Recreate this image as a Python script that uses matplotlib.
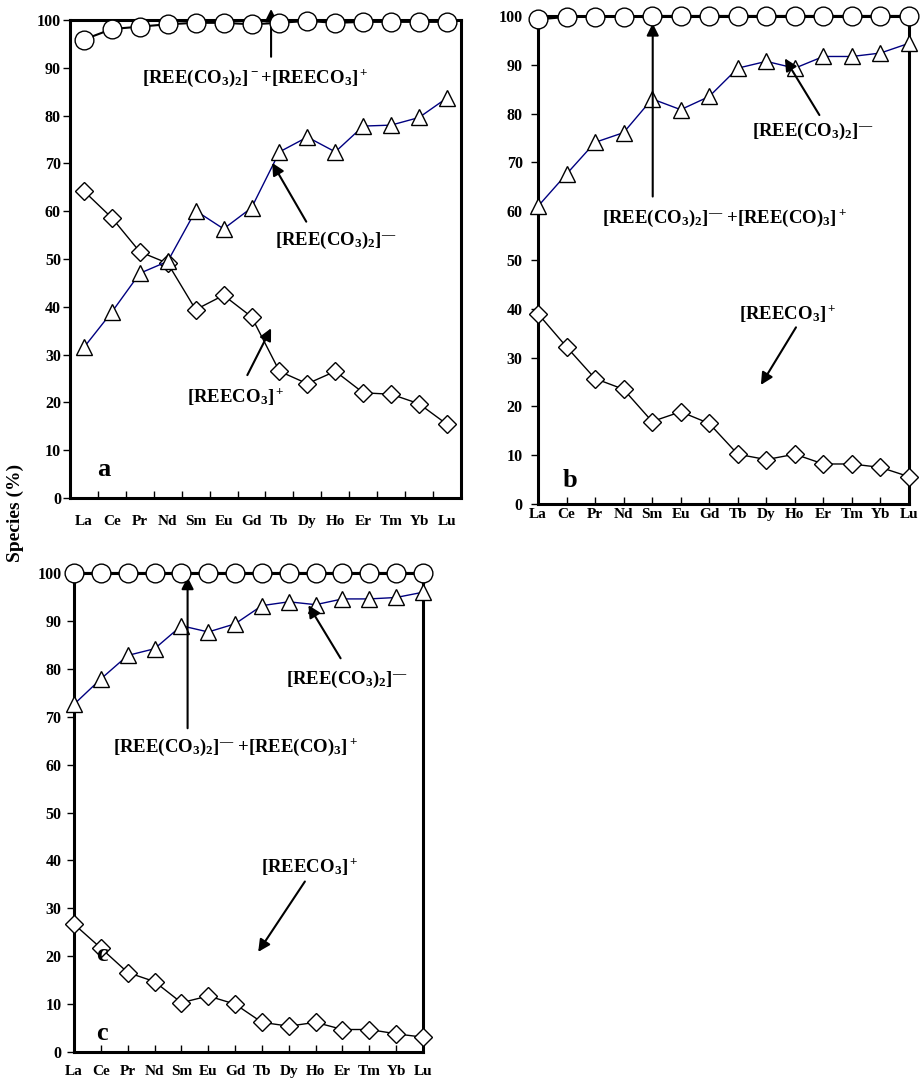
import numpy as np
from matplotlib import pyplot as plt

plt.rcParams['font.family'] = 'Liberation Serif'
plt.rcParams['font.weight'] = 'bold'
plt.rcParams['mathtext.fontset'] = 'custom'
plt.rcParams['mathtext.rm'] = 'Liberation Serif:bold'
plt.rcParams['mathtext.bf'] = 'Liberation Serif:bold'
plt.rcParams['mathtext.it'] = 'Liberation Serif:bold'
plt.rcParams['mathtext.default'] = 'bf'

elements = ['La', 'Ce', 'Pr', 'Nd', 'Sm', 'Eu', 'Gd', 'Tb', 'Dy', 'Ho', 'Er', 'Tm', 'Yb', 'Lu']
y_ticks = [0, 10, 20, 30, 40, 50, 60, 70, 80, 90, 100]

# panel a
a_total = [95.9, 98.1, 98.6, 99.1, 99.4, 99.4, 99.1, 99.4, 99.8, 99.4, 99.6, 99.6, 99.6, 99.6]
a_dicarb = [31.5, 38.9, 47.0, 49.5, 60.1, 56.3, 60.7, 72.4, 75.5, 72.4, 77.8, 78.0, 79.6, 83.7]
a_carb = [64.2, 58.6, 51.5, 49.1, 39.4, 42.4, 37.9, 26.5, 23.9, 26.5, 22.0, 21.7, 19.7, 15.4]
# panel b
b_total = [99.3, 99.8, 99.8, 99.8, 100, 100, 100, 100, 100, 100, 100, 100, 100, 100]
b_dicarb = [61.0, 67.6, 74.1, 76.1, 83.0, 80.8, 83.5, 89.3, 90.7, 89.3, 91.7, 91.7, 92.4, 94.4]
b_carb = [39.0, 32.2, 25.7, 23.5, 16.9, 18.9, 16.5, 10.2, 9.1, 10.2, 8.2, 8.2, 7.5, 5.6]
# panel c
c_total = [100, 100, 100, 100, 100, 100, 100, 100, 100, 100, 100, 100, 100, 100]
c_dicarb = [72.6, 77.9, 82.8, 84.2, 89.0, 87.7, 89.4, 93.2, 94.0, 93.4, 94.6, 94.6, 94.9, 96.0]
c_carb = [26.7, 21.7, 16.6, 14.7, 10.3, 11.7, 10.0, 6.2, 5.4, 6.2, 4.7, 4.7, 3.8, 3.1]

lbl_sum_a = r'[REE(CO$_3$)$_2$]$^-$+[REECO$_3$]$^+$'
lbl_sum = r'[REE(CO$_3$)$_2$]$^{—}$ +[REE(CO)$_3$]$^+$'
lbl_di = r'[REE(CO$_3$)$_2$]$^{—}$'
lbl_mono = r'[REECO$_3$]$^+$'

fig = plt.figure(figsize=(9.22, 10.79), dpi=100)


def draw_panel(rect, total, dicarb, carb, xlim, minor_x, xpad, ypad):
	ax = fig.add_axes(rect)
	x = np.arange(len(elements))
	ax.plot(x, carb, color='k', lw=1, marker='D', ms=9, mfc='white', mec='k', mew=1, clip_on=False, zorder=3)
	ax.plot(x, dicarb, color='#000080', lw=1, marker='^', ms=12, mfc='white', mec='k', mew=1, clip_on=False, zorder=3)
	ax.plot(x, total, color='k', lw=1.5, marker='o', ms=13.5, mfc='white', mec='k', mew=1, clip_on=False, zorder=4)
	ax.set_xlim(*xlim)
	ax.set_ylim(0, 100)
	ax.set_yticks(y_ticks)
	ax.set_xticks(x)
	ax.set_xticklabels(elements, fontsize=11, fontweight='bold')
	ax.tick_params(axis='x', which='major', direction='in', length=5, pad=xpad, width=1)
	if minor_x:
		ax.set_xticks(np.arange(0.5, len(elements) - 1, 1.0), minor=True)
		ax.tick_params(axis='x', which='major', length=0)
		ax.tick_params(axis='x', which='minor', direction='in', length=5, width=1)
	ax.tick_params(axis='y', direction='out', length=5, pad=ypad, width=1, labelsize=11.5)
	for lab in ax.get_yticklabels():
		lab.set_fontweight('bold')
	for s in ax.spines.values():
		s.set_linewidth(2.2)
	return ax


arrow = dict(arrowstyle='-|>', color='k', lw=1.5, mutation_scale=18, shrinkA=0, shrinkB=0)
fs = 13.5

ax_a = draw_panel([0.0759, 0.5385, 0.4241, 0.443], a_total, a_dicarb, a_carb, (-0.5, 13.5), True, 12, 1.5)
ax_a.annotate('', xy=(6.7, 102.3), xytext=(6.7, 92.3), arrowprops=arrow, annotation_clip=False)
ax_a.text(6.14, 87.8, lbl_sum_a, fontsize=fs, ha='center', va='center')
ax_a.annotate('', xy=(6.74, 70.1), xytext=(7.96, 57.8), arrowprops=arrow)
ax_a.text(9.0, 53.8, lbl_di, fontsize=fs, ha='center', va='center')
ax_a.annotate('', xy=(6.7, 35.5), xytext=(5.85, 25.7), arrowprops=arrow)
ax_a.text(5.45, 21.2, lbl_mono, fontsize=fs, ha='center', va='center')
ax_a.text(0.7, 5.9, 'a', fontsize=19, ha='center', va='center')

ax_b = draw_panel([0.5835, 0.5329, 0.4024, 0.4523], b_total, b_dicarb, b_carb, (0, 13), False, 3, 6)
ax_b.annotate('', xy=(4.02, 98.5), xytext=(4.02, 63.0), arrowprops=arrow)
ax_b.text(6.55, 58.6, lbl_sum, fontsize=fs, ha='center', va='center')
ax_b.annotate('', xy=(8.65, 91.3), xytext=(9.86, 79.7), arrowprops=arrow)
ax_b.text(9.64, 76.3, lbl_di, fontsize=fs, ha='center', va='center')
ax_b.annotate('', xy=(7.81, 24.4), xytext=(9.04, 36.2), arrowprops=arrow)
ax_b.text(8.74, 39.1, lbl_mono, fontsize=fs, ha='center', va='center')
ax_b.text(1.12, 4.9, 'b', fontsize=19, ha='center', va='center')

ax_c = draw_panel([0.0803, 0.025, 0.3785, 0.4439], c_total, c_dicarb, c_carb, (0, 13), False, 9, 4)
ax_c.annotate('', xy=(4.23, 99.2), xytext=(4.23, 67.6), arrowprops=arrow)
ax_c.text(6.0, 63.5, lbl_sum, fontsize=fs, ha='center', va='center')
ax_c.annotate('', xy=(8.73, 93.3), xytext=(9.93, 82.2), arrowprops=arrow)
ax_c.text(10.16, 77.7, lbl_di, fontsize=fs, ha='center', va='center')
ax_c.annotate('', xy=(6.86, 20.9), xytext=(8.6, 35.6), arrowprops=arrow)
ax_c.text(8.79, 38.7, lbl_mono, fontsize=fs, ha='center', va='center')
ax_c.text(1.03, 20.3, 'c', fontsize=19, ha='center', va='center')
ax_c.text(1.03, 3.9, 'c', fontsize=19, ha='center', va='center')

fig.text(0.017, 0.5246, 'Species (%)', rotation=90, fontsize=14, fontweight='bold', ha='center', va='center')

fig.savefig('out.png', dpi=100)
